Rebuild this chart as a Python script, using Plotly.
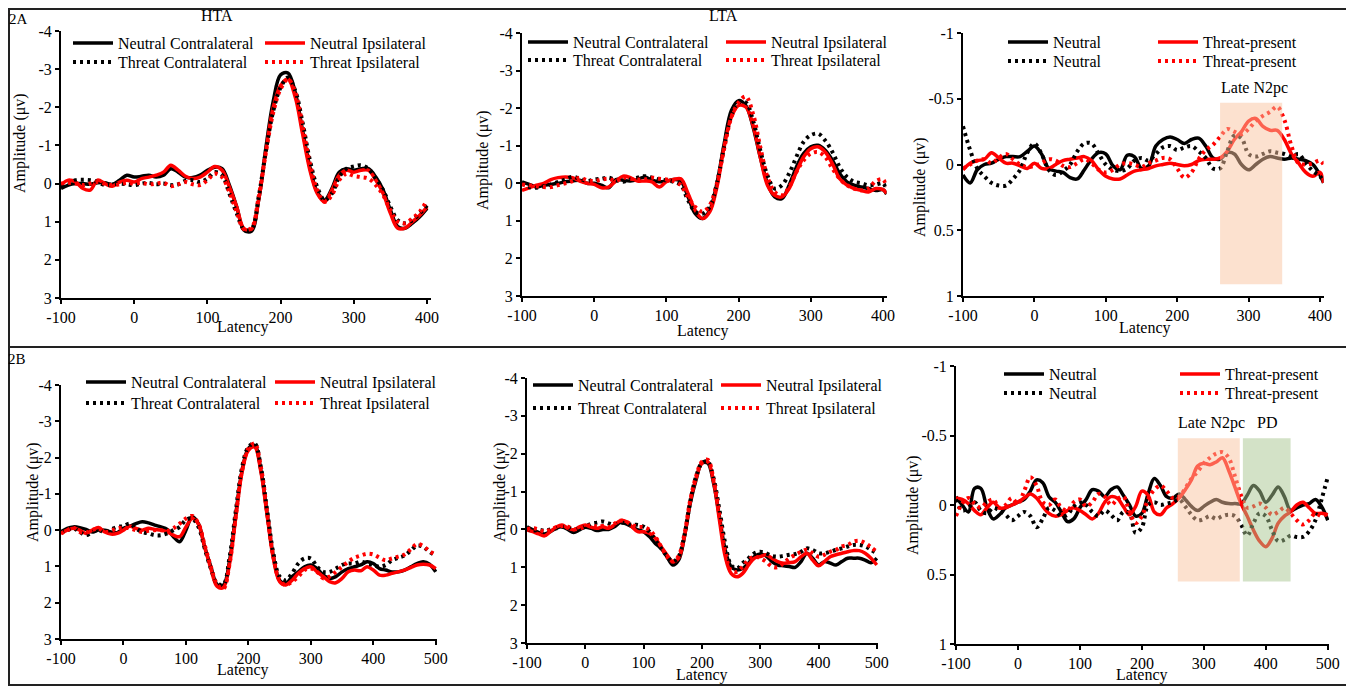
import plotly.graph_objects as go

# the page body adds an 8px margin, so the figure is 8px smaller than the window
OFF = 8
W, H = 1354 - OFF, 687 - OFF
FONT = "Liberation Serif"
BLACK = "black"
RED = "#ff0000"

# latency samples (ms)
lat_2a = list(range(-100, 401, 10))
lat_2a_ext = lat_2a + [405]
lat_2b = list(range(-100, 501, 10))

# tick labels
amp_ticks = [-4, -3, -2, -1, 0, 1, 2, 3]
amp_ticktext = ["-4", "-3", "-2", "-1", "0", "1", "2", "3"]
diff_ticks = [-1, -0.5, 0, 0.5, 1]
diff_ticktext = ["-1", "-0.5", "0", "0.5", "1"]
lat_ticks_2a = [-100, 0, 100, 200, 300, 400]
lat_ticks_2b = [-100, 0, 100, 200, 300, 400, 500]

# ---- 2A HTA ----
hta_a_neu_contra = [0.13, 0.04, 0, 0, 0.02, -0.02, -0.02, 0.02, -0.09, -0.22,
                    -0.17, -0.19, -0.22, -0.17, -0.22, -0.39, -0.3, -0.17, -0.16, -0.22,
                    -0.35, -0.43, -0.39, 0.04, 0.61, 1.22, 1.25, 0.43, -0.96, -2.17,
                    -2.85, -2.9, -2.39, -1.39, -0.43, 0.22, 0.43, 0.13, -0.3, -0.39,
                    -0.35, -0.39, -0.39, -0.17, 0.17, 0.7, 1.13, 1.17, 1.04, 0.87,
                    0.65]
hta_a_neu_ipsi = [0.04, -0.09, -0.04, 0.13, 0.17, -0.09, 0, 0.07, -0.04, -0.09,
                  -0.04, -0.13, -0.17, -0.22, -0.3, -0.48, -0.35, -0.19, -0.13, -0.17,
                  -0.3, -0.45, -0.35, 0.09, 0.61, 1.18, 1.2, 0.43, -0.87, -2.0,
                  -2.57, -2.74, -2.26, -1.3, -0.35, 0.26, 0.48, 0.17, -0.22, -0.35,
                  -0.3, -0.35, -0.35, -0.09, 0.26, 0.78, 1.17, 1.17, 1.0, 0.83,
                  0.61]
hta_a_thr_contra = [0.04, 0.02, -0.09, -0.1, -0.09, -0.04, 0.04, 0.02, 0, 0.02,
                    0.04, 0, -0.02, 0.02, 0, 0.04, 0.02, -0.07, -0.09, -0.04,
                    -0.13, -0.3, -0.22, 0.26, 0.78, 1.2, 1.2, 0.35, -0.87, -1.91,
                    -2.52, -2.78, -2.43, -1.6, -0.61, 0.09, 0.43, 0.26, -0.17, -0.39,
                    -0.45, -0.48, -0.39, -0.13, 0.17, 0.61, 0.96, 1.04, 0.96, 0.78,
                    0.57]
hta_a_thr_ipsi = [0, -0.02, 0, 0.04, 0, -0.04, 0, 0.04, 0.02, -0.02,
                  0, -0.02, 0.02, 0, -0.02, 0.07, 0.02, -0.04, 0.02, 0.04,
                  -0.09, -0.26, -0.17, 0.22, 0.74, 1.2, 1.17, 0.35, -0.83, -1.87,
                  -2.48, -2.74, -2.39, -1.52, -0.52, 0.17, 0.48, 0.3, -0.09, -0.26,
                  -0.2, -0.17, -0.13, 0.04, 0.3, 0.7, 1.0, 1.04, 0.91, 0.74,
                  0.43]

# ---- 2A LTA ----
lta_a_neu_contra = [-0.04, 0.03, 0.1, 0.05, 0.03, 0, -0.04, -0.06, -0.08, 0,
                    0, 0.05, 0.12, -0.1, -0.08, -0.06, -0.1, -0.17, -0.08, -0.04,
                    -0.06, -0.1, -0.06, 0.36, 0.81, 0.94, 0.72, 0, -1.05, -1.94,
                    -2.2, -2.07, -1.5, -0.7, 0, 0.36, 0.41, 0.05, -0.43, -0.79,
                    -0.97, -1.01, -0.88, -0.61, -0.26, -0.04, 0.05, 0.1, 0.14, 0.19,
                    0.17, 0.29]
lta_a_neu_ipsi = [0.19, 0.12, 0.05, 0, -0.1, -0.15, -0.17, -0.15, -0.06, 0,
                  0.03, 0.12, 0.1, -0.06, -0.19, -0.15, -0.06, -0.06, -0.04, 0.1,
                  -0.04, -0.1, -0.12, 0.27, 0.72, 0.94, 0.76, 0.1, -0.97, -1.76,
                  -2.07, -2.03, -1.54, -0.7, 0.05, 0.32, 0.36, 0.14, -0.3, -0.7,
                  -0.92, -0.97, -0.83, -0.52, -0.12, 0.05, 0.14, 0.19, 0.23, 0.14,
                  0.17, 0.27]
lta_a_thr_contra = [0, 0.1, 0.12, 0.08, 0.03, -0.04, -0.1, -0.17, -0.12, -0.06,
                    -0.1, -0.12, -0.15, -0.08, -0.04, -0.1, -0.15, -0.19, -0.15, -0.1,
                    -0.08, -0.04, 0.05, 0.45, 0.76, 0.81, 0.63, 0, -0.97, -1.81,
                    -2.15, -2.15, -1.67, -0.88, -0.21, 0.14, 0.05, -0.26, -0.7, -1.1,
                    -1.28, -1.32, -1.14, -0.83, -0.43, -0.17, -0.04, 0, 0.05, 0.03,
                    0, 0.19]
lta_a_thr_ipsi = [0.03, 0.05, 0.08, 0.1, 0.1, 0.05, 0, -0.06, -0.15, -0.08,
                  -0.06, -0.1, -0.12, -0.06, -0.15, -0.12, -0.1, -0.1, -0.15, -0.12,
                  -0.1, -0.06, 0.05, 0.36, 0.63, 0.76, 0.59, 0, -0.92, -1.76,
                  -2.15, -2.31, -1.85, -0.97, -0.17, 0.23, 0.32, 0.1, -0.3, -0.61,
                  -0.79, -0.83, -0.7, -0.39, -0.12, 0.05, 0.14, 0.19, 0.14, -0.06,
                  -0.1, 0.1]

# ---- 2A contra-minus-ipsi ----
diff_a_neu = [0.08, 0.14, 0.04, 0, -0.01, -0.04, -0.06, -0.06, -0.06, -0.1,
              -0.14, -0.08, 0.03, 0.05, 0.06, 0.1, 0.11, 0.04, -0.04, -0.09,
              -0.08, 0.01, 0.04, -0.07, -0.06, 0.03, 0.01, -0.14, -0.19, -0.21,
              -0.19, -0.16, -0.19, -0.2, -0.14, -0.05, -0.04, -0.09, -0.08, 0,
              0.04, 0, -0.04, -0.06, -0.05, -0.04, -0.05, -0.04, -0.03, 0,
              0.08, 0.14]
diff_a_thr = [0.04, -0.01, -0.03, -0.04, -0.09, -0.05, -0.01, -0.01, 0.01, 0.03,
              -0.01, 0.03, 0.03, 0, -0.03, -0.04, -0.05, -0.06, -0.03, 0.04,
              0.09, 0.11, 0.11, 0.08, 0.05, 0.04, 0.03, 0.01, 0, -0.01,
              0, 0.01, 0, -0.03, -0.04, -0.04, -0.05, -0.1, -0.19, -0.25,
              -0.33, -0.35, -0.29, -0.26, -0.26, -0.19, -0.08, -0.01, 0.06, 0.09,
              0.06, 0.14]
diff_a_neu_dot = [-0.29, -0.11, 0.03, 0.09, 0.14, 0.16, 0.16, 0.11, 0.04, -0.09,
                  -0.16, -0.08, 0.04, 0.08, 0.05, 0, -0.1, -0.16, -0.16, -0.08,
                  0, 0.04, 0.05, 0.03, -0.03, -0.05, -0.03, -0.08, -0.13, -0.14,
                  -0.11, -0.13, -0.14, -0.1, -0.05, 0.03, 0.03, -0.1, -0.22, -0.2,
                  -0.08, -0.06, -0.08, -0.1, -0.09, -0.08, -0.06, -0.08, -0.01, 0.05,
                  0.09, 0.13]
diff_a_thr_dot = [0.03, 0, -0.03, -0.04, -0.01, -0.05, -0.08, -0.04, 0, 0.02,
                  0.01, -0.01, -0.04, -0.03, 0.01, 0.02, -0.01, -0.04, -0.01, 0.04,
                  0.06, 0.04, 0, -0.01, 0, 0.02, -0.01, -0.03, -0.05, -0.04,
                  0.03, 0.1, 0.06, -0.04, -0.11, -0.15, -0.21, -0.27, -0.25, -0.23,
                  -0.27, -0.33, -0.37, -0.4, -0.44, -0.34, -0.14, -0.01, 0, -0.01,
                  -0.03, 0]

# ---- 2B HTA ----
hta_b_neu_contra = [0.05, -0.05, -0.09, -0.07, -0.02, 0.05, 0, 0, 0.05, 0.07,
                    -0.05, -0.11, -0.18, -0.23, -0.2, -0.14, -0.09, -0.02, 0.18, 0.32,
                    0, -0.37, -0.18, 0.46, 1.01, 1.5, 1.52, 0.83, -0.46, -1.65,
                    -2.25, -2.34, -1.65, -0.46, 0.73, 1.38, 1.47, 1.28, 1.15, 1.01,
                    0.96, 1.06, 1.24, 1.33, 1.28, 1.15, 1.06, 1.01, 0.96, 0.87,
                    0.92, 1.06, 1.1, 1.15, 1.15, 1.1, 1.01, 0.92, 0.87, 0.94,
                    1.15]
hta_b_neu_ipsi = [0.09, 0, -0.05, 0, 0.09, 0, -0.07, 0.05, 0.11, 0.09,
                  0, -0.11, -0.05, 0, -0.05, -0.02, 0, 0.05, 0.14, 0.18,
                  -0.09, -0.32, -0.17, 0.46, 1.06, 1.55, 1.58, 0.92, -0.37, -1.61,
                  -2.2, -2.29, -1.61, -0.41, 0.78, 1.42, 1.51, 1.38, 1.19, 1.06,
                  1.01, 1.15, 1.28, 1.42, 1.45, 1.33, 1.15, 1.1, 1.12, 1.01,
                  1.1, 1.24, 1.24, 1.19, 1.15, 1.1, 1.03, 0.96, 0.94, 0.96,
                  1.06]
hta_b_thr_contra = [0.05, 0, -0.05, 0.05, 0.14, 0.05, 0, 0.05, -0.02, -0.09,
                    -0.11, -0.18, -0.05, 0.05, 0.09, 0.14, 0.14, 0.09, 0, -0.09,
                    -0.28, -0.32, -0.09, 0.5, 1.06, 1.47, 1.5, 0.73, -0.55, -1.74,
                    -2.29, -2.39, -1.74, -0.55, 0.64, 1.28, 1.38, 1.19, 0.92, 0.78,
                    0.78, 1.01, 1.15, 1.15, 1.06, 0.96, 0.92, 0.92, 0.87, 0.92,
                    0.96, 1.01, 0.96, 0.83, 0.76, 0.7, 0.56, 0.43, 0.46, 0.6,
                    0.7]
hta_b_thr_ipsi = [0.09, 0, -0.07, 0.05, 0.07, 0, -0.05, 0.05, 0.02, -0.05,
                  -0.07, -0.05, 0, 0.05, 0.02, 0, 0, 0.02, -0.05, -0.18,
                  -0.32, -0.39, -0.18, 0.41, 1.01, 1.5, 1.61, 0.92, -0.41, -1.65,
                  -2.25, -2.39, -1.74, -0.5, 0.73, 1.38, 1.51, 1.42, 1.28, 1.1,
                  1.06, 1.15, 1.33, 1.28, 1.15, 1.01, 0.87, 0.76, 0.7, 0.65,
                  0.67, 0.76, 0.83, 0.78, 0.73, 0.67, 0.53, 0.38, 0.44, 0.58,
                  0.67]

# ---- 2B LTA ----
lta_b_neu_contra = [-0.07, 0.01, 0.08, 0.12, 0.06, -0.03, -0.07, 0, 0.08, 0.01,
                    -0.06, -0.03, 0.03, 0, 0, -0.07, -0.18, -0.15, -0.07, 0.01,
                    0.06, 0.19, 0.37, 0.5, 0.72, 0.94, 0.81, 0.19, -0.69, -1.31,
                    -1.75, -1.75, -1.22, -0.34, 0.54, 0.98, 1.07, 1.03, 0.89, 0.72,
                    0.65, 0.7, 0.85, 0.94, 0.96, 0.98, 1.0, 0.85, 0.63, 0.76,
                    0.94, 0.85, 0.89, 0.94, 0.85, 0.76, 0.76, 0.76, 0.81, 0.88,
                    0.76]
lta_b_neu_ipsi = [0.01, 0.06, 0.12, 0.17, 0.06, -0.06, -0.12, -0.03, 0.01, -0.07,
                  -0.12, -0.06, -0.03, -0.07, -0.03, -0.12, -0.23, -0.21, -0.07, 0.06,
                  0.06, 0.1, 0.23, 0.45, 0.67, 0.85, 0.76, 0.19, -0.74, -1.35,
                  -1.75, -1.79, -1.27, -0.25, 0.72, 1.16, 1.25, 1.16, 0.94, 0.76,
                  0.72, 0.67, 0.76, 0.85, 0.89, 0.88, 0.85, 0.72, 0.63, 0.81,
                  0.96, 0.85, 0.72, 0.67, 0.63, 0.59, 0.56, 0.56, 0.63, 0.76,
                  0.94]
lta_b_thr_contra = [-0.03, 0.03, 0.01, 0.03, 0, -0.03, -0.07, -0.06, 0.01, -0.03,
                    -0.07, -0.15, -0.18, -0.21, -0.16, -0.12, -0.18, -0.16, -0.12, -0.12,
                    -0.07, 0.06, 0.28, 0.5, 0.7, 0.85, 0.72, 0.15, -0.74, -1.4,
                    -1.75, -1.79, -1.35, -0.52, 0.37, 0.94, 1.03, 0.89, 0.76, 0.63,
                    0.59, 0.63, 0.7, 0.72, 0.7, 0.67, 0.65, 0.59, 0.5, 0.54,
                    0.63, 0.63, 0.59, 0.54, 0.5, 0.45, 0.41, 0.41, 0.45, 0.54,
                    0.63]
lta_b_thr_ipsi = [0, -0.03, 0, 0.06, 0.01, -0.06, -0.09, -0.07, 0, -0.03,
                  -0.07, -0.12, -0.07, -0.09, -0.06, -0.15, -0.23, -0.21, -0.12, -0.07,
                  -0.06, 0.01, 0.19, 0.45, 0.72, 0.85, 0.7, 0.12, -0.78, -1.4,
                  -1.79, -1.84, -1.31, -0.38, 0.6, 1.08, 1.12, 0.98, 0.8, 0.72,
                  0.76, 0.85, 0.98, 1.0, 0.89, 0.76, 0.67, 0.59, 0.54, 0.63,
                  0.72, 0.67, 0.59, 0.54, 0.45, 0.41, 0.32, 0.3, 0.36, 0.47,
                  0.59]

# ---- 2B contra-minus-ipsi ----
diff_b_neu = [-0.06, 0, 0.05, -0.12, -0.12, 0.02, 0.1, 0.07, 0.02, 0,
              -0.02, -0.04, -0.1, -0.18, -0.16, -0.06, -0.02, 0.05, 0.12, 0.1,
              0.02, -0.04, -0.11, -0.1, -0.06, -0.11, -0.13, -0.07, 0, 0.08,
              0.06, -0.08, -0.19, -0.14, -0.06, -0.05, -0.08, -0.04, 0.01, 0.04,
              0.01, -0.02, -0.04, -0.02, -0.01, -0.01, -0.01, -0.07, -0.14, -0.1,
              -0.02, -0.07, -0.13, -0.06, 0.04, 0.02, 0, -0.01, -0.04, 0.01,
              0.11]
diff_b_thr = [-0.05, -0.04, -0.01, 0.04, 0.07, 0.02, -0.02, 0.02, 0.02, 0,
              -0.02, -0.05, -0.08, -0.05, 0.01, 0.06, 0.08, 0.07, 0.04, 0.02,
              0.04, 0.07, 0.1, 0.06, -0.02, -0.06, -0.05, 0.01, 0.07, 0.01,
              -0.1, -0.07, 0.05, 0.07, 0.02, -0.01, -0.05, -0.11, -0.18, -0.28,
              -0.3, -0.29, -0.31, -0.34, -0.25, -0.13, -0.01, 0.08, 0.18, 0.26,
              0.3, 0.24, 0.13, 0.08, 0.05, 0, -0.02, 0.02, 0.06, 0.06,
              0.07]
diff_b_neu_dot = [-0.04, 0.04, 0.02, -0.02, 0.04, 0.06, 0.02, 0.04, 0.07, 0.11,
                  0.08, 0.05, 0.08, 0.16, 0.1, 0.02, 0.04, 0.08, 0.07, 0.01,
                  -0.02, 0, 0.05, 0.08, 0.04, 0.07, 0.11, 0.05, 0.06, 0.2,
                  0.16, 0, -0.02, 0, -0.01, -0.02, -0.04, 0.01, 0.07, 0.11,
                  0.1, 0.08, 0.1, 0.08, 0.07, 0.08, 0.14, 0.22, 0.13, 0.06,
                  0.08, 0.18, 0.26, 0.25, 0.22, 0.23, 0.23, 0.19, 0.11, -0.04,
                  -0.2]
diff_b_thr_dot = [0.08, -0.01, -0.05, -0.01, 0.02, -0.02, -0.04, 0.02, 0, -0.05,
                  -0.01, -0.1, -0.2, -0.14, -0.02, 0, -0.04, 0.02, 0.04, -0.02,
                  -0.04, 0.01, -0.02, -0.08, -0.06, 0, -0.04, -0.06, 0.05, 0.13,
                  0.08, -0.04, -0.11, -0.14, -0.1, -0.05, -0.06, -0.12, -0.19, -0.24,
                  -0.3, -0.34, -0.37, -0.38, -0.34, -0.21, -0.07, 0.02, 0.01, -0.01,
                  0.02, 0.07, 0.05, 0.02, 0.06, 0.11, 0.14, 0.11, 0.06, 0.08,
                  0.06]

# analysis windows (ms) and their vertical extent (µV)
n2pc_win_a = [260, 347]
n2pc_win_b = [258, 358]
pd_win_b = [363, 440]
win_span_a = [-0.47, 0.91]
win_span_b = [-0.48, 0.55]

names_lat = ["Neutral Contralateral", "Neutral Ipsilateral",
             "Threat Contralateral", "Threat Ipsilateral"]
names_diff = ["Neutral", "Threat-present", "Neutral", "Threat-present"]

# panel layout, in window pixels
# leg = (text start of 1st column, row1 y, row2 y, gap to 2nd column text)
panels = [
    dict(x=lat_2a, ys=[hta_a_neu_contra, hta_a_neu_ipsi, hta_a_thr_contra, hta_a_thr_ipsi],
         names=names_lat, box=(61, 430.7, 31, 298), xr=[-100, 405], yr=[3, -4],
         xt=lat_ticks_2a, yt=(amp_ticks, amp_ticktext),
         leg=(118, 43, 62, 192), lat=(243, 327), amp=(20, 143)),
    dict(x=lat_2a_ext, ys=[lta_a_neu_contra, lta_a_neu_ipsi, lta_a_thr_contra, lta_a_thr_ipsi],
         names=names_lat, box=(522, 886.6, 33, 296), xr=[-100, 405], yr=[3, -4],
         xt=lat_ticks_2a, yt=(amp_ticks, amp_ticktext),
         leg=(573, 42, 60, 198), lat=(703, 331), amp=(483, 160)),
    dict(x=lat_2a_ext, ys=[diff_a_neu, diff_a_thr, diff_a_neu_dot, diff_a_thr_dot],
         names=names_diff, box=(963, 1323.6, 33, 296), xr=[-100, 405], yr=[1, -1],
         xt=lat_ticks_2a, yt=(diff_ticks, diff_ticktext),
         leg=(1053, 42, 61, 150), lat=(1145, 328), amp=(920, 187)),
    dict(x=lat_2b, ys=[hta_b_neu_contra, hta_b_neu_ipsi, hta_b_thr_contra, hta_b_thr_ipsi],
         names=names_lat, box=(61, 437, 385, 639), xr=[-100, 502], yr=[3, -4],
         xt=lat_ticks_2b, yt=(amp_ticks, amp_ticktext),
         leg=(131, 382, 403, 189), lat=(243, 670), amp=(33, 492)),
    dict(x=lat_2b, ys=[lta_b_neu_contra, lta_b_neu_ipsi, lta_b_thr_contra, lta_b_thr_ipsi],
         names=names_lat, box=(527, 878, 378, 643), xr=[-100, 502], yr=[3, -4],
         xt=lat_ticks_2b, yt=(amp_ticks, amp_ticktext),
         leg=(578, 385, 408, 188), lat=(702, 675), amp=(500, 492)),
    dict(x=lat_2b, ys=[diff_b_neu, diff_b_thr, diff_b_neu_dot, diff_b_thr_dot],
         names=names_diff, box=(956, 1329, 366, 644), xr=[-100, 502], yr=[1, -1],
         xt=lat_ticks_2b, yt=(diff_ticks, diff_ticktext),
         leg=(1049, 374, 393, 176), lat=(1142, 675), amp=(913, 505)),
]

DOT = "3px,4px"
styles = [(BLACK, "solid", 0), (RED, "solid", 0), (BLACK, DOT, 1), (RED, DOT, 1)]
ITEMW = 40  # legend symbol width

fig = go.Figure()
layout = dict(width=W, height=H, margin=dict(l=0, r=0, t=0, b=0, autoexpand=False),
              paper_bgcolor="white", plot_bgcolor="white", showlegend=True,
              font=dict(family=FONT, size=16, color="black"))
annotations = []
shapes = []

def px(x):
    return (x - OFF) / W

def py(y):
    return 1 - (y - OFF) / H

def label(text, x, y, size=16, angle=0):
    return dict(text=text, x=px(x), y=py(y), xref="paper", yref="paper",
                xanchor="center", yanchor="middle", showarrow=False, textangle=angle,
                font=dict(family=FONT, size=size, color="black"))

leg_n = 0
for i, p in enumerate(panels, start=1):
    sfx = "" if i == 1 else str(i)
    legs = []
    for row in range(2):
        leg_n += 1
        lid = "legend" if leg_n == 1 else "legend%d" % leg_n
        legs.append(lid)
        layout[lid] = dict(
            x=px(p["leg"][0] - ITEMW - 10), y=py(p["leg"][1 + row]), xanchor="left",
            yanchor="middle", orientation="h", itemwidth=ITEMW,
            entrywidth=p["leg"][3] - ITEMW - 15, entrywidthmode="pixels",
            bgcolor="rgba(0,0,0,0)", borderwidth=0, traceorder="normal",
            font=dict(family=FONT, size=16, color="black"))
    for (color, dash, row), name, y in zip(styles, p["names"], p["ys"]):
        fig.add_trace(go.Scatter(
            x=p["x"], y=y, name=name, mode="lines", legend=legs[row],
            line=dict(color=color, width=3.5 if dash == "solid" else 4, dash=dash,
                      shape="spline", smoothing=1.0),
            xaxis="x" + sfx, yaxis="y" + sfx, hoverinfo="skip"))
    x0, x1, y0, y1 = p["box"]
    axis_common = dict(showline=True, linecolor="black", linewidth=2, showgrid=False,
                       zeroline=False, ticks="outside", ticklen=4, tickwidth=1.5,
                       tickcolor="black", tickfont=dict(family=FONT, size=16, color="black"))
    layout["xaxis" + sfx] = dict(axis_common, domain=[px(x0), px(x1)], range=p["xr"],
                                 anchor="y" + sfx, tickvals=p["xt"],
                                 ticktext=[str(v) for v in p["xt"]])
    layout["yaxis" + sfx] = dict(axis_common, domain=[py(y1), py(y0)], range=p["yr"],
                                 anchor="x" + sfx, tickvals=p["yt"][0], ticktext=p["yt"][1])
    annotations.append(label("Latency", *p["lat"]))
    annotations.append(label("Amplitude (μv)", *p["amp"], angle=-90))

# shaded analysis windows (drawn on top, semi-transparent)
PEACH = "#f9c4a0"
SAGE = "#a8c690"
for ax, win, span, col, text in [("3", n2pc_win_a, win_span_a, PEACH, "Late N2pc"),
                                 ("6", n2pc_win_b, win_span_b, PEACH, "Late N2pc"),
                                 ("6", pd_win_b, win_span_b, SAGE, "PD")]:
    shapes.append(dict(type="rect", xref="x" + ax, yref="y" + ax, x0=win[0], x1=win[1],
                       y0=span[0], y1=span[1], fillcolor=col, opacity=0.5,
                       line=dict(width=0), layer="above"))
    annotations.append(dict(text=text, x=(win[0] + win[1]) / 2 + (0 if text == "PD" else 5),
                            y=span[0] - 0.11, xref="x" + ax, yref="y" + ax, showarrow=False,
                            font=dict(family=FONT, size=16, color="black")))

# panel titles and labels
annotations.append(label("HTA", 217, 16))
annotations.append(label("LTA", 723, 16))
annotations.append(label("2A", 18, 19, size=15))
annotations.append(label("2B", 17, 359, size=15))

# outer frame and the divider between 2A and 2B
shapes.append(dict(type="rect", xref="paper", yref="paper", x0=px(9), x1=px(1347),
                   y0=py(685), y1=py(9), line=dict(color="#222", width=2)))
shapes.append(dict(type="line", xref="paper", yref="paper", x0=px(9), x1=px(1347),
                   y0=py(347), y1=py(347), line=dict(color="#222", width=2)))

layout["annotations"] = annotations
layout["shapes"] = shapes
fig.update_layout(**layout)
fig.write_html("out.html")
